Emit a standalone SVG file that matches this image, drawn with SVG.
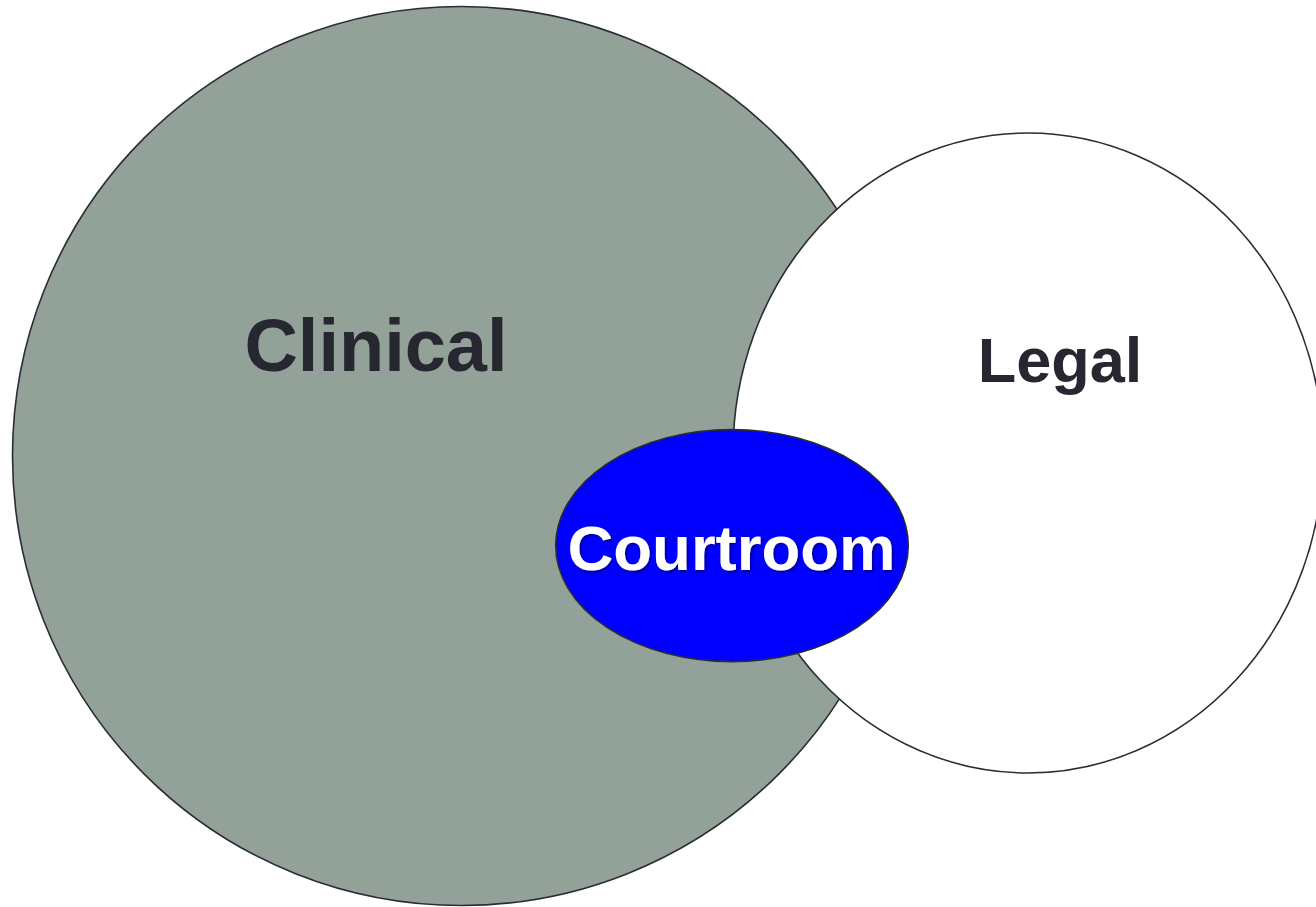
<svg xmlns="http://www.w3.org/2000/svg" width="1316" height="907" viewBox="0 0 1316 907">
  <defs>
    <style>
      .shape { stroke: #2b2b35; stroke-width: 1.6; }
      .lbl { font-family: "Liberation Sans", Arial, sans-serif; font-weight: bold; text-anchor: middle; }
      .dark { fill: #272731; }
    </style>
    <filter id="shadow" x="-10%" y="-20%" width="120%" height="140%">
      <feDropShadow dx="1.5" dy="1.5" stdDeviation="1" flood-color="#000033" flood-opacity="0.6"/>
    </filter>
  </defs>
  <rect width="1316" height="907" fill="#ffffff"/>
  <g id="clinical">
    <ellipse class="shape" cx="461.5" cy="456" rx="449" ry="449.5" fill="#93a299"/>
    <text class="lbl dark" x="376" y="371" font-size="74">Clinical</text>
  </g>
  <g id="legal">
    <ellipse class="shape" cx="1028" cy="453" rx="295" ry="320" fill="#ffffff"/>
    <text class="lbl dark" x="1060" y="382" font-size="63">Legal</text>
  </g>
  <g id="courtroom">
    <ellipse class="shape" cx="732" cy="545.6" rx="176.3" ry="116" fill="#0000ff"/>
    <text class="lbl" x="731.5" y="570" font-size="63.5" fill="#ffffff" filter="url(#shadow)">Courtroom</text>
  </g>
  <g id="connectors"/>
</svg>
